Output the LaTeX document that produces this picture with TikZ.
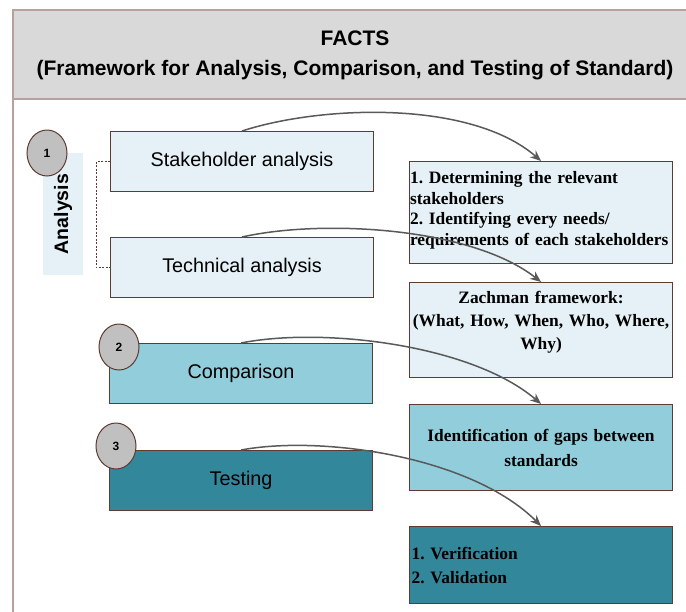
\documentclass[tikz,border=0pt]{standalone}
\usepackage{fontspec}
\setmainfont{Liberation Serif}
\newfontfamily\arialfont{Liberation Sans}
\frenchspacing
\usetikzlibrary{arrows.meta,shapes.geometric,positioning}

\definecolor{boxline}{HTML}{5E3A30}
\definecolor{frameline}{HTML}{B5A29E}
\definecolor{titlefill}{HTML}{D9D9D9}
\definecolor{lightfill}{HTML}{E5F1F6}
\definecolor{midfill}{HTML}{92CDDC}
\definecolor{darkfill}{HTML}{33879B}
\definecolor{circlefill}{HTML}{C0C0C0}
\definecolor{arrowgray}{HTML}{595959}

\tikzstyle{leftbox} = [draw=boxline, line width=1.1pt, rectangle, anchor=north west, minimum width=263pt, minimum height=60pt, inner sep=0pt, font=\arialfont\fontsize{19.8}{22}\selectfont]
\tikzstyle{rightbox} = [draw=boxline, line width=1.1pt, rectangle, anchor=north west, minimum width=263pt, inner xsep=0.5pt, text width=262pt, font=\bfseries\fontsize{17.4}{20.5}\selectfont]
\tikzstyle{numcircle} = [draw=boxline, line width=1pt, fill=circlefill, ellipse, minimum width=40pt, minimum height=46pt, inner sep=0pt, font=\arialfont\bfseries\fontsize{12}{14}\selectfont]
\tikzstyle{flow} = [draw=arrowgray, line width=1.5pt, -{Stealth[length=11pt,width=9pt]}]

\begin{document}
\begin{tikzpicture}[x=1pt, y=-1pt]
\useasboundingbox (0,0) rectangle (686,611);
\clip (0,0) rectangle (686,611);

\fill[titlefill] (13,10) rectangle (700,99);
\draw[frameline, line width=1.5pt] (700,10) -- (13,10) -- (13,99) -- (700,99);
\draw[frameline, line width=1.5pt] (13,99) -- (13,620);
\node[font=\arialfont\bfseries\fontsize{21}{30}\selectfont, align=center] (title) at (355,55)
  {FACTS\\(Framework for Analysis, Comparison, and Testing of Standard)};

\node[fill=lightfill, rotate=90, minimum width=122pt, minimum height=40pt, inner sep=0pt,
  font=\arialfont\bfseries\fontsize{19.5}{22}\selectfont] (analysis) at (63,214) {Analysis};

\node[leftbox, fill=lightfill] (stake) at (110,131) {Stakeholder analysis};
\node[leftbox, fill=lightfill] (tech) at (110,237) {Technical analysis};
\node[leftbox, fill=midfill] (comp) at (109,343) {Comparison};
\node[leftbox, fill=darkfill] (test) at (109,450) {Testing};

\draw[boxline, dashed, dash pattern=on 2pt off 1.5pt, line width=0.8pt] (stake.west) -- ++(-14,0) |- (tech.west);

\node[rightbox, fill=lightfill, minimum height=102pt, align=left] (determ) at (409,161)
  {1. Determining the relevant\\stakeholders\\2. Identifying every needs/\\requirements of each stakeholders\rule[-8pt]{0pt}{0pt}};
\node[rightbox, fill=lightfill, minimum height=95pt, align=center, font=\bfseries\fontsize{17.4}{23}\selectfont] (zach) at (409,282)
  {Zachman framework:\\(What, How, When, Who, Where,\\Why)\rule[-19pt]{0pt}{0pt}};
\node[rightbox, fill=midfill, minimum height=86pt, align=center, font=\bfseries\fontsize{17.4}{25}\selectfont] (gaps) at (409,404)
  {Identification of gaps between\\standards};
\node[rightbox, fill=darkfill, minimum height=77pt, align=left, inner xsep=2pt, text width=259pt, font=\bfseries\fontsize{17.4}{24}\selectfont] (verif) at (409,526)
  {1. Verification\\2. Validation};

\node[numcircle] (one) at (47,153) {1};
\node[numcircle] (two) at (119,347) {2};
\node[numcircle] (three) at (116,446) {3};

\draw[flow] (stake.north) .. controls +(80,-26) and +(-70,-61) .. (determ.north);
\draw[flow] (tech.north) .. controls +(80,-18) and +(-70,-55) .. (zach.north);
\draw[flow] (comp.north) .. controls +(80,-16) and +(-70,-60) .. (gaps.north);
\draw[flow] (test.north) .. controls +(80,-15) and +(-70,-70) .. (verif.north);
\end{tikzpicture}
\end{document}
